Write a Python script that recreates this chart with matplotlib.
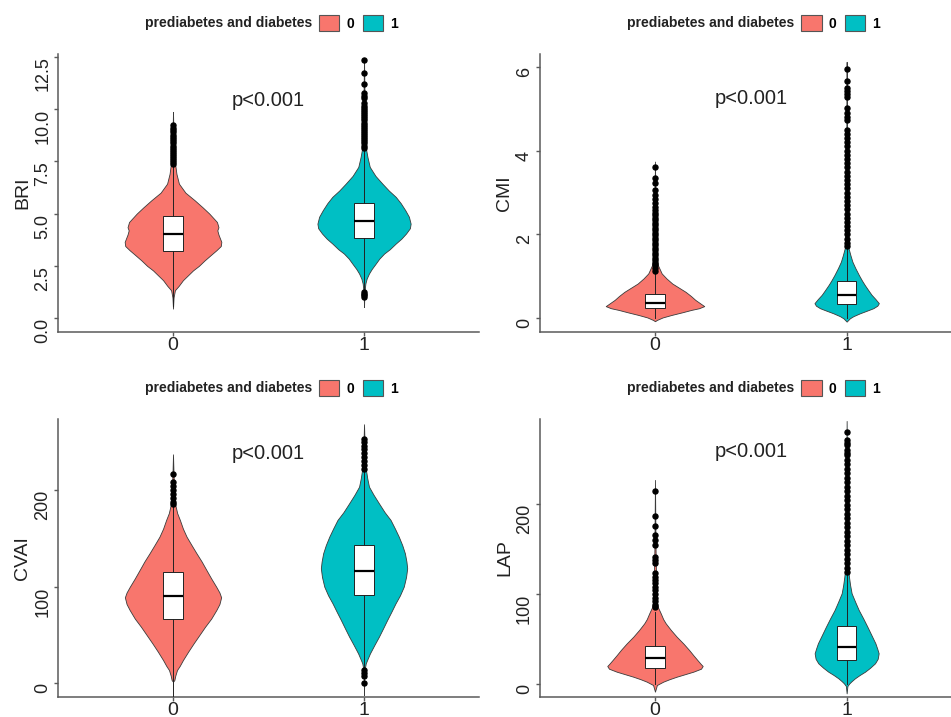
import matplotlib
matplotlib.use("Agg")
import matplotlib.pyplot as plt
from matplotlib.patches import Patch

plt.rcParams['font.family'] = ['Liberation Sans', 'DejaVu Sans']

groups = ['0', '1']
colors = ['#F8766D', '#00BFC4']
legend_title = 'prediabetes and diabetes'
p_text = 'p<0.001'

# ---- BRI ----
bri_levels_0 = [9.86, 9.0, 8.0, 7.31, 6.9, 6.43, 6.0, 5.64, 5.3, 5.0, 4.6, 4.35, 4.2, 4.0, 3.65, 3.45,
                3.25, 3.0, 2.77, 2.5, 2.29, 2.05, 1.82, 1.55, 1.34, 1.0, 0.46]
bri_widths_0 = [0.0, 0.002, 0.004, 0.012, 0.018, 0.031, 0.065, 0.113, 0.155, 0.19, 0.23, 0.238, 0.232,
                0.238, 0.253, 0.25, 0.227, 0.195, 0.166, 0.135, 0.105, 0.078, 0.052, 0.03, 0.01, 0.003, 0.0]
bri_levels_1 = [12.45, 11.0, 9.5, 8.11, 7.7, 7.23, 6.8, 6.43, 6.1, 5.8, 5.5, 5.16, 4.85, 4.52, 4.3, 4.05,
                3.8, 3.57, 3.3, 3.09, 2.85, 2.61, 2.35, 2.14, 1.9, 1.66, 1.2, 0.54]
bri_widths_1 = [0.0, 0.002, 0.004, 0.01, 0.018, 0.03, 0.06, 0.096, 0.13, 0.166, 0.192, 0.216, 0.235, 0.244,
                0.24, 0.22, 0.195, 0.166, 0.135, 0.105, 0.08, 0.061, 0.04, 0.026, 0.014, 0.007, 0.002, 0.0]
bri_box_0 = [3.21, 4.01, 4.87, 0.6, 7.31]      # q1, median, q3, whisker low, whisker high
bri_box_1 = [3.84, 4.65, 5.51, 1.33, 8.05]
bri_out_0 = [7.35, 7.45, 7.55, 7.65, 7.75, 7.85, 7.95, 8.05, 8.15, 8.25, 8.35, 8.45, 8.55, 8.65,
             8.75, 8.9, 9.0, 9.1, 9.22]
bri_out_1 = [12.36, 11.72, 11.21, 10.75, 10.6, 10.5, 10.27, 10.15, 10.05, 9.95, 9.85, 9.75, 9.65,
             9.55, 9.45, 9.35, 9.25, 9.15, 9.05, 8.95, 8.85, 8.75, 8.65, 8.55, 8.45, 8.35, 8.25, 8.15,
             1.26, 1.18, 1.1, 1.02]

# ---- CMI ----
cmi_levels_0 = [3.74, 2.5, 1.5, 1.27, 1.07, 0.95, 0.83, 0.73, 0.63, 0.53, 0.44, 0.36, 0.29, 0.24, 0.2,
                0.14, 0.08, 0.02, -0.04, -0.07]
cmi_widths_0 = [0.0, 0.003, 0.008, 0.015, 0.035, 0.06, 0.09, 0.125, 0.16, 0.188, 0.21, 0.235, 0.257,
                0.23, 0.19, 0.14, 0.087, 0.04, 0.01, 0.0]
cmi_levels_1 = [6.12, 4.0, 2.2, 1.67, 1.5, 1.35, 1.2, 1.03, 0.9, 0.79, 0.67, 0.56, 0.46, 0.36, 0.3,
                0.24, 0.18, 0.12, 0.05, 0.0, -0.08]
cmi_widths_1 = [0.0, 0.002, 0.005, 0.01, 0.02, 0.03, 0.045, 0.064, 0.08, 0.095, 0.113, 0.13, 0.15,
                0.168, 0.16, 0.139, 0.105, 0.07, 0.035, 0.017, 0.0]
cmi_box_0 = [0.24, 0.37, 0.58, 0.0, 1.09]
cmi_box_1 = [0.35, 0.56, 0.88, 0.0, 1.67]
cmi_out_0 = [3.62, 3.34, 3.22, 3.05, 2.95, 2.85, 2.75, 2.65, 2.58, 2.52, 2.46, 2.4, 2.34, 2.28, 2.22,
             2.16, 2.1, 2.04, 1.98, 1.92, 1.86, 1.8, 1.74, 1.68, 1.62, 1.56, 1.5, 1.44, 1.38, 1.32,
             1.26, 1.2, 1.14]
cmi_out_1 = [5.95, 5.66, 5.49, 5.42, 5.35, 5.29, 5.01, 4.89, 4.81, 4.73, 4.5, 4.4, 4.3, 4.2, 4.1,
             4.0, 3.9, 3.8, 3.7, 3.6, 3.5, 3.4, 3.3, 3.2, 3.1, 3.0, 2.9, 2.8, 2.7, 2.6, 2.5, 2.4,
             2.3, 2.2, 2.1, 2.0, 1.9, 1.8, 1.72]

# ---- CVAI ----
cvai_levels_0 = [236.9, 215, 195, 184.5, 176, 169, 160, 151.7, 143, 134.5, 126, 117.2, 108.5, 100, 94,
                 89, 82, 75.9, 67, 58.6, 50, 41.4, 33, 24.1, 18, 13.8, 8, 3.4, 1.7]
cvai_widths_0 = [0.0, 0.003, 0.006, 0.012, 0.022, 0.036, 0.052, 0.071, 0.097, 0.123, 0.15, 0.175, 0.2,
                 0.226, 0.243, 0.252, 0.243, 0.227, 0.2, 0.168, 0.138, 0.108, 0.08, 0.052, 0.035,
                 0.021, 0.012, 0.007, 0.0]
cvai_levels_1 = [268, 240, 221, 212, 203.4, 195, 186.2, 177, 169, 160, 151.7, 143, 134.5, 126, 119,
                 110, 100, 91, 82.8, 74, 65.5, 57, 48.3, 40, 31, 25, 20.7, 15, 5, -12]
cvai_widths_1 = [0.0, 0.004, 0.01, 0.017, 0.026, 0.05, 0.078, 0.108, 0.139, 0.162, 0.182, 0.2, 0.214,
                 0.222, 0.226, 0.22, 0.208, 0.188, 0.165, 0.143, 0.121, 0.1, 0.078, 0.055, 0.031,
                 0.018, 0.009, 0.004, 0.001, 0.0]
cvai_box_0 = [66.6, 90.3, 114.8, -13, 185]
cvai_box_1 = [91.4, 116.6, 143.1, 14.5, 220.7]
cvai_out_0 = [216.6, 208, 204, 200, 196, 192, 188, 185]
cvai_out_1 = [253, 250, 246, 242, 238, 234, 230, 226, 222, 14, 11, 8, 0.7]

# ---- LAP ----
lap_levels_0 = [226.7, 150, 100, 85.9, 78.5, 72, 67.4, 60, 52.6, 45, 37.8, 32, 26.7, 22, 20, 17, 13.7,
                10.8, 8.1, 5.3, 2.6, -1.1, -8.5]
lap_widths_0 = [0.0, 0.003, 0.007, 0.014, 0.03, 0.043, 0.056, 0.083, 0.113, 0.148, 0.178, 0.2, 0.221,
                0.24, 0.249, 0.24, 0.2, 0.155, 0.113, 0.075, 0.043, 0.01, 0.0]
lap_levels_1 = [292.2, 200, 130, 119.3, 110, 100.7, 91, 82.2, 73, 63.7, 54, 45.2, 39, 34.1, 28, 23, 18,
                13.7, 10, 6.3, 3, 0.7, -2.2, -10.4]
lap_widths_1 = [0.0, 0.003, 0.007, 0.012, 0.018, 0.026, 0.045, 0.063, 0.086, 0.108, 0.13, 0.15, 0.16,
                0.167, 0.162, 0.148, 0.122, 0.096, 0.068, 0.043, 0.025, 0.014, 0.004, 0.0]
lap_box_0 = [18.1, 28.5, 42.6, 0.5, 80]
lap_box_1 = [26.7, 41.5, 64.8, 0.5, 121]
lap_out_0 = [214.8, 186.7, 175.9, 165.6, 160, 154.4, 141.5, 138, 134, 123, 119, 115.6, 112, 108, 104,
             100, 96, 92, 88, 85]
lap_out_1 = [280.4, 271, 268, 265.6, 260, 257, 254.4, 249, 244, 239, 234, 229, 224, 219, 214, 209,
             204, 199, 194, 189, 184, 179, 174, 169, 164, 159, 154, 149, 144, 139, 134, 129, 124]

bri_ticks = [0, 2.5, 5, 7.5, 10, 12.5]
bri_ticklabels = ['0.0', '2.5', '5.0', '7.5', '10.0', '12.5']
cmi_ticks = [0, 2, 4, 6]
cmi_ticklabels = ['0', '2', '4', '6']
big_ticks = [0, 100, 200]
big_ticklabels = ['0', '100', '200']

panels = [
    dict(name='BRI', levels=[bri_levels_0, bri_levels_1], widths=[bri_widths_0, bri_widths_1],
         box=[bri_box_0, bri_box_1], out=[bri_out_0, bri_out_1], ylim=(-0.64, 12.61),
         ticks=bri_ticks, ticklabels=bri_ticklabels, rect=[0.0614, 0.5374, 0.4419, 0.3869], p_y=0.835),
    dict(name='CMI', levels=[cmi_levels_0, cmi_levels_1], widths=[cmi_widths_0, cmi_widths_1],
         box=[cmi_box_0, cmi_box_1], out=[cmi_out_0, cmi_out_1], ylim=(-0.32, 6.30),
         ticks=cmi_ticks, ticklabels=cmi_ticklabels, rect=[0.5678, 0.5374, 0.4434, 0.3869], p_y=0.841),
    dict(name='CVAI', levels=[cvai_levels_0, cvai_levels_1], widths=[cvai_widths_0, cvai_widths_1],
         box=[cvai_box_0, cvai_box_1], out=[cvai_out_0, cvai_out_1], ylim=(-13.8, 273.1),
         ticks=big_ticks, ticklabels=big_ticklabels, rect=[0.0614, 0.0283, 0.4419, 0.3869], p_y=0.877),
    dict(name='LAP', levels=[lap_levels_0, lap_levels_1], widths=[lap_widths_0, lap_widths_1],
         box=[lap_box_0, lap_box_1], out=[lap_out_0, lap_out_1], ylim=(-14.1, 294.0),
         ticks=big_ticks, ticklabels=big_ticklabels, rect=[0.5678, 0.0283, 0.4434, 0.3869], p_y=0.883),
]

axis_grey = '#5a5a5a'
# the source image squeezes the rotated tick labels, a narrow face gets closer
ytick_family = ['Liberation Sans Narrow', 'Liberation Sans', 'DejaVu Sans']

fig = plt.figure(figsize=(9.51, 7.17), dpi=100)

for pn in panels:
    ax = fig.add_axes(pn['rect'])
    for i in range(2):
        lv = pn['levels'][i]
        w = pn['widths'][i]
        ax.fill_betweenx(lv, [i - v for v in w], [i + v for v in w],
                         facecolor=colors[i], edgecolor='#3a3a3a', linewidth=0.6, zorder=2)
        q1, med, q3, lo, hi = pn['box'][i]
        stats = dict(q1=q1, med=med, q3=q3, whislo=lo, whishi=hi, fliers=pn['out'][i])
        ax.bxp([stats], positions=[i], widths=0.1, patch_artist=True, showcaps=False,
               manage_ticks=False, zorder=3,
               boxprops=dict(facecolor='white', edgecolor='#222222', linewidth=0.7),
               medianprops=dict(color='black', linewidth=1.6),
               whiskerprops=dict(color='#222222', linewidth=0.7),
               flierprops=dict(marker='o', markerfacecolor='black', markeredgecolor='black',
                               markersize=3.6, linestyle='none'))

    ax.set_xlim(-0.6, 1.6)
    ax.set_ylim(*pn['ylim'])
    ax.set_xticks([0, 1])
    ax.set_xticklabels(groups, fontsize=14, color='#222222')
    ax.set_yticks(pn['ticks'])
    ax.set_yticklabels(pn['ticklabels'], fontsize=13, rotation=90, va='top', color='#222222',
                       family=ytick_family)
    ax.tick_params(axis='both', length=3, width=1, color=axis_grey)
    ax.tick_params(axis='y', pad=2)
    ax.tick_params(axis='x', pad=1)
    for s in ['top', 'right']:
        ax.spines[s].set_visible(False)
    for s in ['left', 'bottom']:
        ax.spines[s].set_color(axis_grey)
        ax.spines[s].set_linewidth(1.1)
    ax.set_ylabel(pn['name'], fontsize=14, color='#222222')
    ax.yaxis.set_label_coords(-0.064, 0.5)

    # x in data units (between the groups), y as a fraction of the panel height
    ax.text(0.5, pn['p_y'], p_text, transform=ax.get_xaxis_transform(), ha='center', va='center',
            fontsize=14.5, color='#222222')

    # ggplot style legend: bold title on the left, keys on the right
    ax.text(0.603, 1.112, legend_title, transform=ax.transAxes, ha='right', va='center',
            fontsize=10, fontweight='bold', color='#222222')
    handles = [Patch(facecolor=colors[i], edgecolor='#555555', linewidth=0.8) for i in range(2)]
    ax.legend(handles, groups, ncol=2, loc='center left', bbox_to_anchor=(0.62, 1.112),
              frameon=False, borderpad=0, borderaxespad=0, handlelength=1.45, handleheight=1.45,
              handletextpad=0.5, columnspacing=0.65, prop=dict(weight='bold', size=10))

fig.savefig('out.png', dpi=100)
